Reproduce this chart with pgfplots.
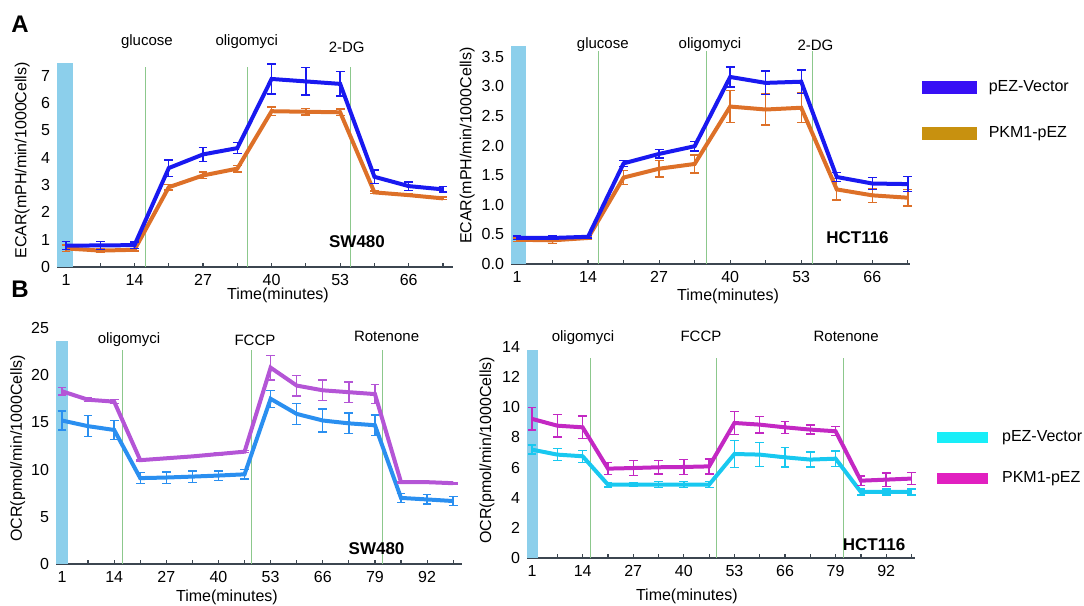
\documentclass[border=0pt]{standalone}
\usepackage{fontspec}
\setmainfont{Liberation Sans}
\usepackage{pgfplots}
\usepackage{pgfplotstable}
\pgfplotsset{compat=1.18}

\definecolor{axgray}{RGB}{60,70,80}
\definecolor{band}{RGB}{140,207,235}
\definecolor{inj}{RGB}{140,200,140}
\definecolor{vecA}{RGB}{25,25,240}
\definecolor{pkmA}{RGB}{221,112,40}
\definecolor{vecAsw}{RGB}{55,15,245}
\definecolor{pkmAsw}{RGB}{200,145,15}
\definecolor{vecB}{RGB}{42,143,240}
\definecolor{pkmB}{RGB}{180,85,214}
\definecolor{vecC}{RGB}{24,200,240}
\definecolor{pkmC}{RGB}{195,40,195}
\definecolor{vecCsw}{RGB}{24,238,248}
\definecolor{pkmCsw}{RGB}{225,32,192}

% t = time, v/ve = pEZ-Vector, k/ke = PKM1-pEZ
\pgfplotstableread{
t    v     ve   k     ke
1    0.78  0.15 0.68  0.12
7.5  0.79  0.15 0.60  0.08
14   0.80  0.12 0.63  0.05
20.5 3.62  0.30 2.92  0.10
27   4.12  0.25 3.35  0.12
33.5 4.35  0.20 3.60  0.12
40   6.88  0.55 5.70  0.15
46.5 6.79  0.50 5.68  0.12
53   6.70  0.45 5.66  0.12
59.5 3.30  0.25 2.73  0.05
66   2.96  0.15 2.63  0.05
72.5 2.84  0.10 2.51  0.05
}\ecarsw
\pgfplotstableread{
t    v     ve   k     ke
1    0.44  0.03 0.41  0.03
7.5  0.44  0.03 0.40  0.05
14   0.46  0.02 0.44  0.03
20.5 1.70  0.05 1.46  0.12
27   1.86  0.07 1.61  0.14
33.5 1.99  0.08 1.69  0.15
40   3.16  0.17 2.66  0.27
46.5 3.06  0.20 2.61  0.26
53   3.08  0.20 2.64  0.25
59.5 1.47  0.08 1.26  0.18
66   1.36  0.10 1.16  0.12
72.5 1.35  0.13 1.12  0.14
}\ecarhct
\pgfplotstableread{
t    v     ve   k     ke
1    15.2  1.0  18.3  0.4
7.5  14.6  1.1  17.4  0.2
14   14.2  1.0  17.2  0.2
20.5 9.10  0.6  11.0  0.1
27   9.16  0.6  11.2  0.1
33.5 9.26  0.6  11.4  0.1
40   9.37  0.5  11.65 0.1
46.5 9.50  0.5  11.9  0.1
53   17.5  0.9  20.8  1.3
59.5 15.9  1.1  18.9  1.1
66   15.2  1.2  18.4  1.1
72.5 14.9  1.1  18.2  1.1
79   14.7  1.1  18.0  1.0
85.5 7.00  0.5  8.67  0.1
92   6.84  0.5  8.67  0.1
98.5 6.67  0.5  8.56  0.1
}\ocrsw
\pgfplotstableread{
t    v     ve   k     ke
1    7.19  0.30 9.23  0.75
7.5  6.86  0.40 8.78  0.75
14   6.75  0.40 8.67  0.75
20.5 4.87  0.15 5.93  0.40
27   4.87  0.10 5.97  0.50
33.5 4.87  0.20 6.02  0.45
40   4.87  0.20 6.04  0.50
46.5 4.87  0.20 6.08  0.50
53   6.90  0.90 8.96  0.75
59.5 6.86  0.80 8.85  0.55
66   6.68  0.65 8.67  0.40
72.5 6.53  0.50 8.52  0.30
79   6.59  0.50 8.41  0.30
85.5 4.38  0.20 5.13  0.30
92   4.38  0.20 5.20  0.45
98.5 4.38  0.20 5.27  0.40
}\ocrhct

\tikzset{
  drug/.style={font=\fontsize{7.5}{9}\selectfont, anchor=center},
  cell/.style={font=\bfseries\fontsize{8.5}{10}\selectfont, anchor=center},
}
\pgfplotsset{
  seahorse/.style={
    scale only axis, clip=false, ymin=0,
    axis x line*=bottom, axis y line*=left,
    x axis line style={-, draw=axgray, line width=0.6pt},
    y axis line style={draw=none},
    ytick style={draw=none},
    xtick style={draw=axgray, line width=0.6pt},
    minor x tick style={draw=axgray, line width=0.6pt},
    tick align=inside, major tick length=2pt, minor tick length=2pt,
    tick label style={font=\fontsize{8}{9}\selectfont},
    label style={font=\fontsize{8}{9}\selectfont},
    /pgf/number format/assume math mode=true,
    legend cell align=left,
  },
  ecarx/.style={xtick={1,14,27,40,53,66},
    minor xtick={7.5,20.5,33.5,46.5,59.5,72.5}},
  ocrx/.style={xtick={1,14,27,40,53,66,79,92},
    minor xtick={7.5,20.5,33.5,46.5,59.5,72.5,85.5,98.5}},
  series/.style={line width=2pt, forget plot,
    error bars/y dir=both, error bars/y explicit,
    error bars/error bar style={line width=0.7pt},
    error bars/error mark options={rotate=90, mark size=2.2pt, line width=0.7pt}},
  inject/.style={draw=inj, line width=0.5pt, forget plot},
}

\begin{document}
\begin{tikzpicture}
\path[use as bounding box] (0,0) rectangle (542pt,-303pt);

\node[font=\bfseries\fontsize{12}{12}\selectfont] at (10pt,-12pt) {A};
\node[font=\bfseries\fontsize{12}{12}\selectfont] at (10pt,-144.5pt) {B};

% ---- A, SW480 ECAR
\begin{axis}[seahorse, ecarx, at={(28.5pt,-133.5pt)}, anchor=south west,
  width=198pt, height=102.5pt, xmin=-0.7, xmax=74.4, ymax=7.5,
  ytick={0,1,...,7},
  xlabel={Time(minutes)}, ylabel={ECAR(mPH/min/1000Cells)},
  xlabel style={at={(axis description cs:0.558,-0.137)}, anchor=center},
  ylabel style={at={(axis description cs:-0.088,0.52)}, anchor=center}]
\addplot[fill=band, draw=none, forget plot] coordinates {(-0.7,7.48) (2.3,7.48)} \closedcycle;
\addplot[inject] coordinates {(16,0) (16,7.3)};
\addplot[inject] coordinates {(35.5,0) (35.5,7.3)};
\addplot[inject] coordinates {(55,0) (55,7.3)};
\addplot[pkmA, series] table[x=t, y=k, y error=ke] {\ecarsw};
\addplot[vecA, series] table[x=t, y=v, y error=ve] {\ecarsw};
\node[drug] at (axis cs:16.35,8.24) {glucose};
\node[drug] at (axis cs:35.3,8.24) {oligomyci};
\node[drug] at (axis cs:54.25,8.02) {2-DG};
\node[cell] at (axis cs:56.2,0.93) {SW480};
\end{axis}

% ---- A, HCT116 ECAR
\begin{axis}[seahorse, ecarx, at={(255.5pt,-132pt)}, anchor=south west,
  width=199.5pt, height=109.5pt, xmin=-0.1, xmax=72.9, ymax=3.7,
  ytick={0,0.5,...,3.5},
  yticklabel style={/pgf/number format/fixed, /pgf/number format/fixed zerofill, /pgf/number format/precision=1},
  xlabel={Time(minutes)}, ylabel={ECAR(mPH/min/1000Cells)},
  xlabel style={at={(axis description cs:0.544,-0.147)}, anchor=center},
  ylabel style={at={(axis description cs:-0.11,0.54)}, anchor=center},
  legend style={draw=none, fill=none, at={(axis description cs:1.03,0.86)},
    anchor=north west, inner sep=0pt, row sep=12pt,
    font=\fontsize{8}{9}\selectfont}]
\addplot[fill=band, draw=none, forget plot] coordinates {(-0.1,3.68) (2.6,3.68)} \closedcycle;
\addplot[inject] coordinates {(16,0) (16,3.6)};
\addplot[inject] coordinates {(35.6,0) (35.6,3.6)};
\addplot[inject] coordinates {(55,0) (55,3.6)};
\addplot[pkmA, series] table[x=t, y=k, y error=ke] {\ecarhct};
\addplot[vecA, series] table[x=t, y=v, y error=ve] {\ecarhct};
\node[drug] at (axis cs:16.7,3.7) {glucose};
\node[drug] at (axis cs:36.3,3.7) {oligomyci};
\node[drug] at (axis cs:55.6,3.7) {2-DG};
\node[cell] at (axis cs:63.3,0.44) {HCT116};
\addlegendimage{legend image code/.code={\fill[vecAsw] (0pt,-3pt) rectangle (27pt,3pt); \path[draw=none, fill=none] (0pt,0pt) -- (30pt,0pt);}}
\addlegendentry{pEZ-Vector}
\addlegendimage{legend image code/.code={\fill[pkmAsw] (0pt,-3pt) rectangle (27pt,3pt); \path[draw=none, fill=none] (0pt,0pt) -- (31pt,0pt);}}
\addlegendentry{PKM1-pEZ}
\end{axis}

% ---- B, SW480 OCR
\begin{axis}[seahorse, ocrx, at={(28pt,-282pt)}, anchor=south west,
  width=203pt, height=118pt, xmin=-0.5, xmax=100.7, ymax=25,
  ytick={0,5,...,25},
  xlabel={Time(minutes)}, ylabel={OCR(pmol/min/1000Cells)},
  xlabel style={at={(axis description cs:0.421,-0.14)}, anchor=center},
  ylabel style={at={(axis description cs:-0.094,0.49)}, anchor=center}]
\addplot[fill=band, draw=none, forget plot] coordinates {(-0.5,23.6) (2.5,23.6)} \closedcycle;
\addplot[inject] coordinates {(16,0) (16,22.7)};
\addplot[inject] coordinates {(48.3,0) (48.3,22.7)};
\addplot[inject] coordinates {(81,0) (81,22.7)};
\addplot[vecB, series] table[x=t, y=v, y error=ve] {\ocrsw};
\addplot[pkmB, series] table[x=t, y=k, y error=ke] {\ocrsw};
\node[drug] at (axis cs:17.7,23.8) {oligomyci};
\node[drug] at (axis cs:49.1,23.7) {FCCP};
\node[drug] at (axis cs:81.9,24.1) {Rotenone};
\node[cell] at (axis cs:79.4,1.6) {SW480};
\end{axis}

% ---- B, HCT116 OCR
\begin{axis}[seahorse, ocrx, at={(263.5pt,-279pt)}, anchor=south west,
  width=194pt, height=105.5pt, xmin=-0.3, xmax=99.4, ymax=14,
  ytick={0,2,...,14},
  xlabel={Time(minutes)}, ylabel={OCR(pmol/min/1000Cells)},
  xlabel style={at={(axis description cs:0.412,-0.183)}, anchor=center},
  ylabel style={at={(axis description cs:-0.103,0.51)}, anchor=center},
  legend style={draw=none, fill=none, at={(axis description cs:1.055,0.625)},
    anchor=north west, inner sep=0pt, row sep=9.5pt,
    font=\fontsize{8}{9}\selectfont}]
\addplot[fill=band, draw=none, forget plot] coordinates {(-0.3,13.8) (2.5,13.8)} \closedcycle;
\addplot[inject] coordinates {(15.9,0) (15.9,13.3)};
\addplot[inject] coordinates {(48.5,0) (48.5,13.3)};
\addplot[inject] coordinates {(81,0) (81,13.3)};
\addplot[vecC, series] table[x=t, y=v, y error=ve] {\ocrhct};
\addplot[pkmC, series] table[x=t, y=k, y error=ke] {\ocrhct};
\node[drug] at (axis cs:14.1,14.6) {oligomyci};
\node[drug] at (axis cs:44.4,14.7) {FCCP};
\node[drug] at (axis cs:81.7,14.7) {Rotenone};
\node[cell] at (axis cs:88.9,0.87) {HCT116};
\addlegendimage{legend image code/.code={\fill[vecCsw] (0pt,-2.5pt) rectangle (25pt,2.5pt); \path[draw=none, fill=none] (0pt,0pt) -- (29pt,0pt);}}
\addlegendentry{pEZ-Vector}
\addlegendimage{legend image code/.code={\fill[pkmCsw] (0pt,-2.5pt) rectangle (25pt,2.5pt); \path[draw=none, fill=none] (0pt,0pt) -- (30.5pt,0pt);}}
\addlegendentry{PKM1-pEZ}
\end{axis}
\end{tikzpicture}
\end{document}
